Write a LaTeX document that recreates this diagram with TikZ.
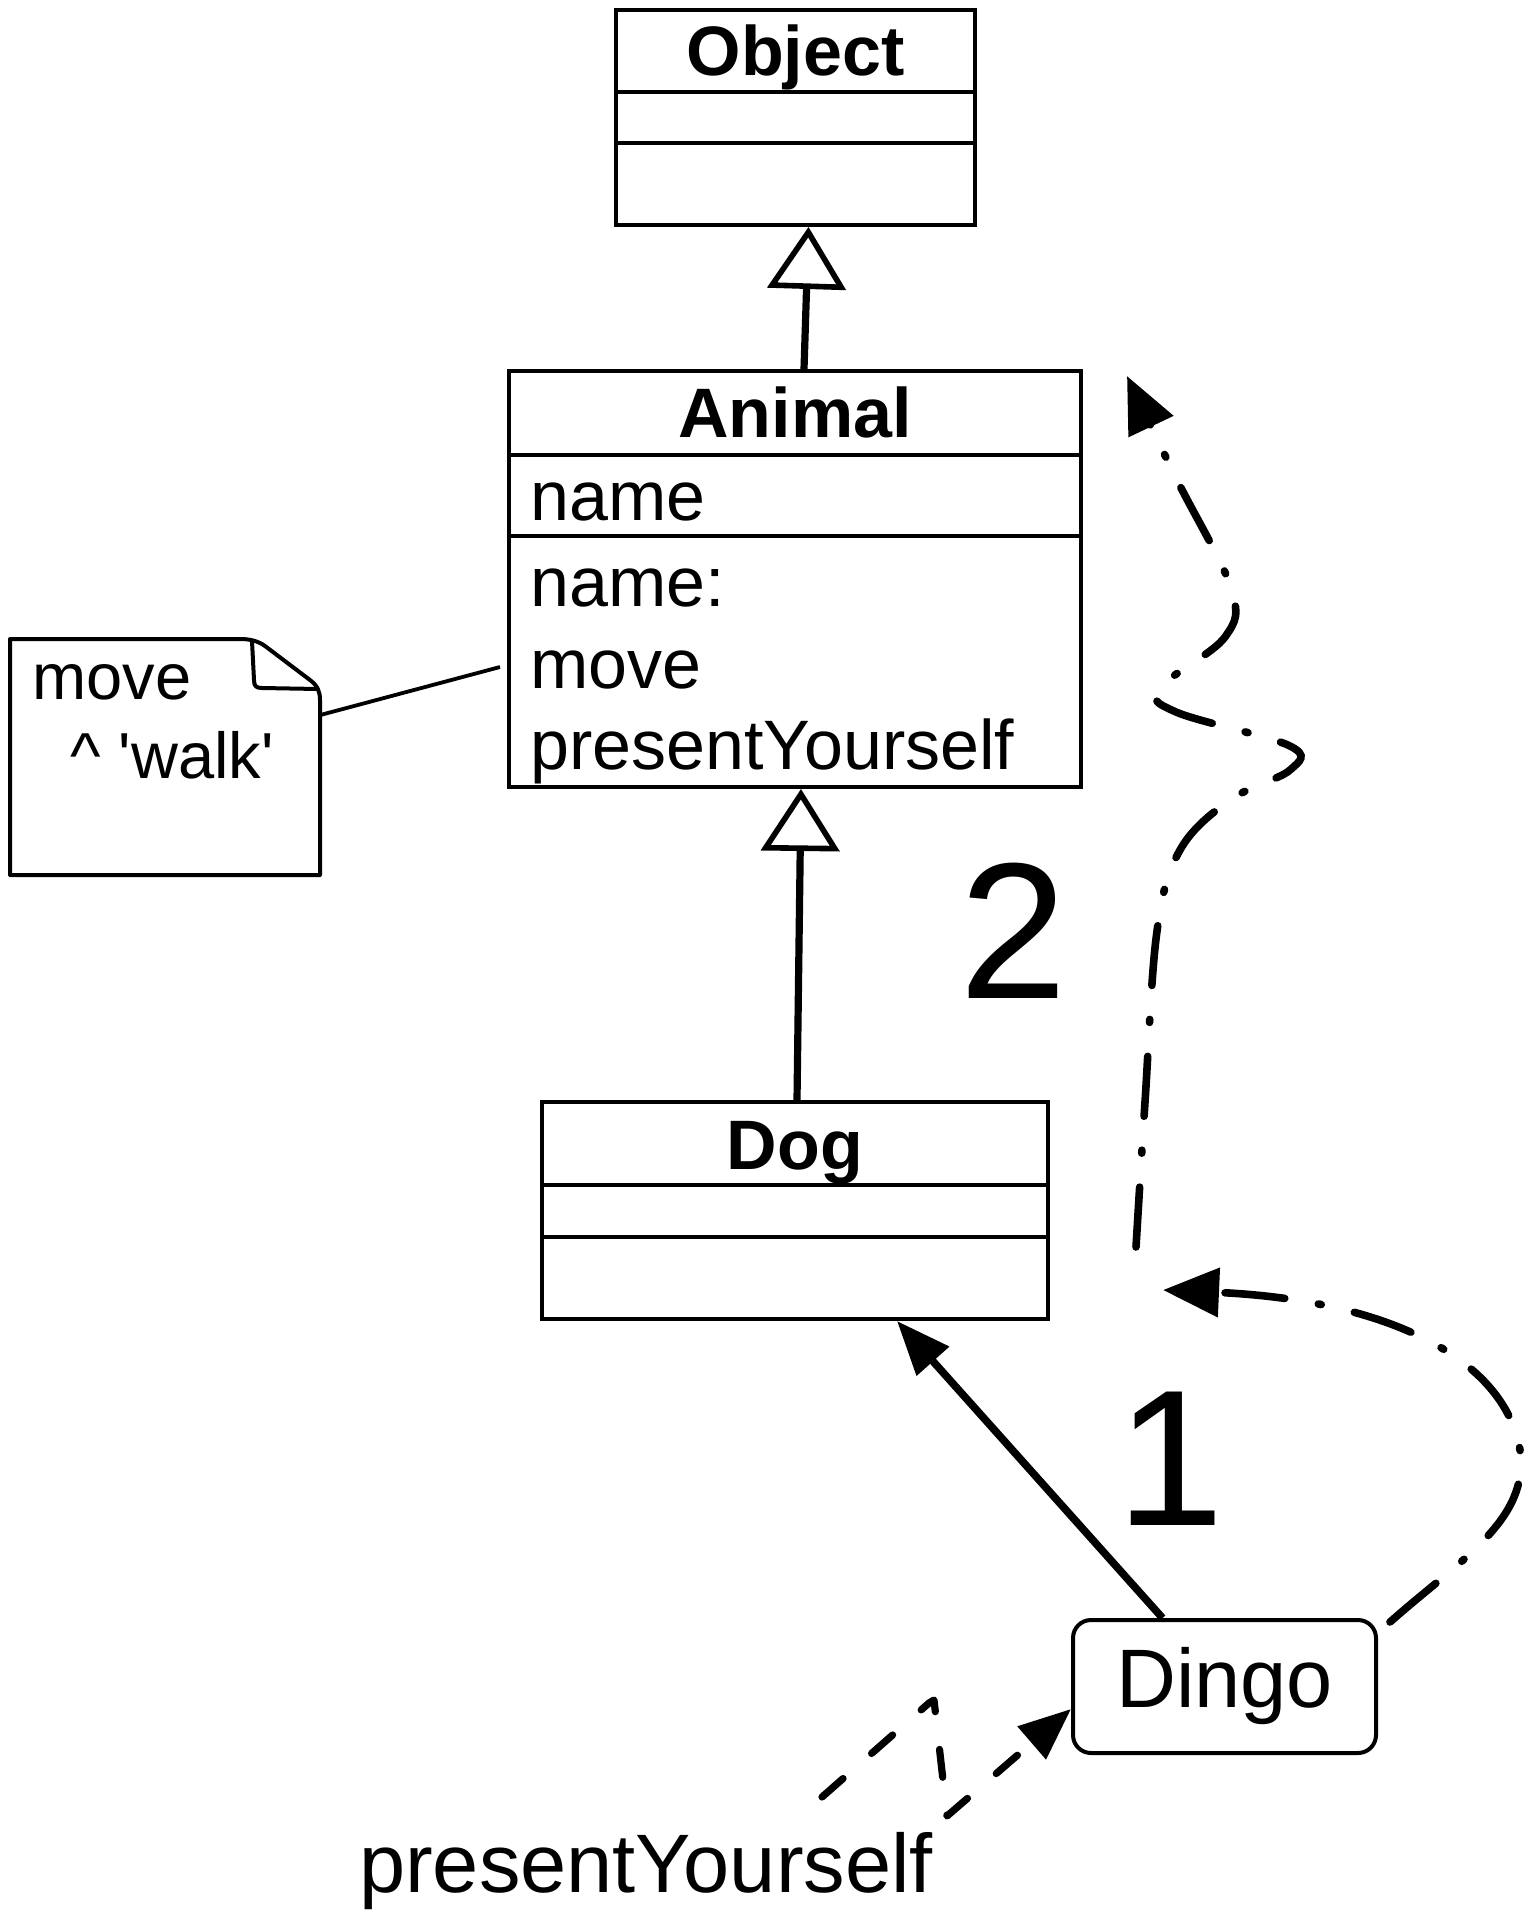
\documentclass[tikz,border=0pt]{standalone}
\usepackage{fontspec}
\setmainfont{Liberation Sans}[Ligatures=TeXOff]
\usetikzlibrary{arrows.meta}
\begin{document}
\begin{tikzpicture}[x=0.5pt,y=-0.5pt,
  classbox/.style={draw, line width=2pt, rectangle, inner sep=0pt},
  divline/.style={line width=2pt},
  titlefont/.style={font=\fontsize{35}{42}\selectfont\bfseries, inner sep=0pt, anchor=base},
  memberfont/.style={font=\fontsize{35}{42}\selectfont, inner sep=0pt, anchor=base west},
  notefont/.style={font=\fontsize{32.5}{39}\selectfont, inner sep=0pt, anchor=base west},
  bigfont/.style={font=\fontsize{41.5}{49}\selectfont, inner sep=0pt},
  numfont/.style={font=\fontsize{97}{110}\selectfont, inner sep=0pt},
  genarrow/.style={line width=3.6pt, -{Triangle[open, length=31pt, width=39pt, line width=2.8pt]}},
  linkarrow/.style={line width=3.8pt, -{Triangle[length=27pt, width=21pt]}},
  dashdotline/.style={line width=3.8pt, line cap=round, dash pattern=on 30pt off 17pt on 1.5pt off 17pt, -{Triangle[length=28pt, width=24pt]}},
  dashline/.style={line width=3.6pt, line cap=round, line join=round, dash pattern=on 14pt off 19pt, -{Triangle[length=26pt, width=21pt]}},
  noteline/.style={line width=2pt, line join=round}
]
\useasboundingbox (0,0) rectangle (1533,1920);

% Object
\node[classbox, minimum width=179.5pt, minimum height=107.5pt] (object) at (795.5,117.5) {};
\draw[divline] (object.west |- 0,92) -- (object.east |- 0,92);
\draw[divline] (object.west |- 0,143) -- (object.east |- 0,143);
\node[titlefont] (objtitle) at (795.5,76) {Object};

% Animal
\node[classbox, minimum width=286pt, minimum height=208pt] (animal) at (795,579) {};
\draw[divline] (animal.west |- 0,455) -- (animal.east |- 0,455);
\draw[divline] (animal.west |- 0,536) -- (animal.east |- 0,536);
\node[titlefont] (animaltitle) at (795,437) {Animal};
\node[memberfont] (aname) at (530,520) {name};
\node[memberfont] (anamec) at (530,606) {name:};
\node[memberfont] (amove) at (530,688) {move};
\node[memberfont] (apresent) at (530,769) {presentYourself};

% Dog
\node[classbox, minimum width=253pt, minimum height=108.5pt] (dog) at (795,1210.5) {};
\draw[divline] (dog.west |- 0,1185) -- (dog.east |- 0,1185);
\draw[divline] (dog.west |- 0,1237) -- (dog.east |- 0,1237);
\node[titlefont] (dogtitle) at (795,1169) {Dog};

% Note
\node[minimum width=155pt, minimum height=118pt, inner sep=0pt] (note) at (165,757) {};
\draw[noteline] (10,639) -- (240,639) .. controls (250,639) and (258,641) .. (265,646) -- (310,680) .. controls (318,686) and (320,692) .. (320,700) -- (320,875) -- (10,875) -- cycle;
\draw[noteline] (252,641) -- (254,680) .. controls (254,686) and (256,688) .. (262,688) -- (318,689);
\node[notefont] (notel1) at (32,699) {move};
\node[notefont] (notel2) at (70,778) {\textasciicircum{} 'walk'};
\coordinate (animalmove) at (500,667);
\draw[line width=1.9pt] ([yshift=21pt]note.east) -- (animalmove);

% Dingo
\node[draw, line width=2pt, rounded corners=9pt, minimum width=151.5pt, minimum height=66.5pt, inner sep=0pt, font=\fontsize{41.5}{49}\selectfont] (dingo) at (1224.5,1686.5) {Dingo};

% generalisations
\draw[genarrow] ([xshift=4.5pt]animal.north) -- ([xshift=6.5pt]object.south);
\draw[genarrow] ([xshift=1pt]dog.north) -- ([xshift=3pt]animal.south);

% instance-of
\draw[linkarrow] ([xshift=-31pt]dingo.north) -- ([xshift=51pt]dog.south);

% numbers
\node[numfont] (num1) at (1170,1459) {1};
\node[numfont] (num2) at (1013,931) {2};

% lookup curve 1
\coordinate (c1start) at (1390,1622);
\coordinate (c1end) at (1163,1290);
\draw[dashdotline] (c1start) .. controls (1460,1560) and (1530,1520) .. (1520,1450) .. controls (1505,1360) and (1390,1300) .. (c1end);

% lookup curve 2
\coordinate (c2start) at (1136,1247);
\coordinate (c2end) at (1127,376);
\draw[dashdotline] plot[smooth, tension=0.6] coordinates {(c2start) (1145,1102) (1157,931) (1180,850) (1230,800) (1290,770) (1290,746) (1176,712) (1160,688) (1225,637) (1231,588) (1176,478) (c2end)};

% message
\node[bigfont, anchor=base] (msg) at (646,1892) {presentYourself};
\coordinate (msgstart) at (822,1797);
\draw[dashline] (msgstart) -- (929,1703) -- (934,1700) -- (947,1816) -- ([yshift=-11.25pt]dingo.west);
\end{tikzpicture}
\end{document}
